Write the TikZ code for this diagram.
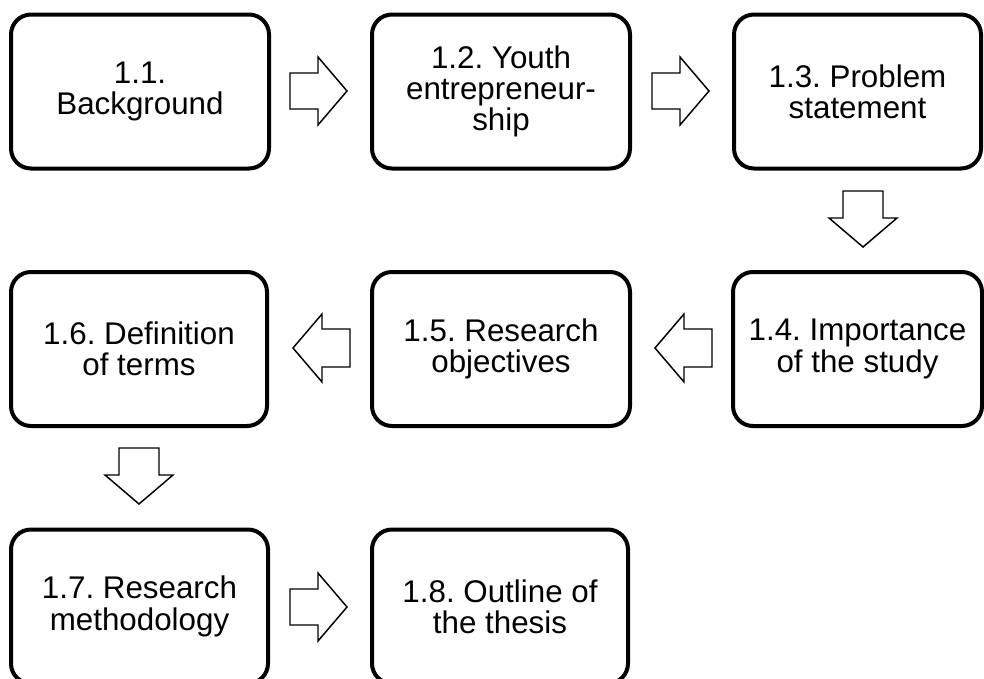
\documentclass[tikz,border=0pt]{standalone}
\usepackage{fontspec}
\setmainfont{Liberation Sans}
\usetikzlibrary{calc}
\frenchspacing
\begin{document}
\begin{tikzpicture}[x=0.75pt,y=-0.75pt,
  box/.style={draw=black,line width=3pt,rounded corners=15pt,fill=white,
    minimum width={258*0.75pt},minimum height={154*0.75pt},inner sep=0pt,
    align=center,font=\fontsize{23.5pt}{23.5pt}\selectfont},
  blockarrow/.style={draw=black,line width=1.1pt,fill=white,line join=miter}]
\useasboundingbox (0,0) rectangle (984,678);
\clip (0,0) rectangle (984,678);
\node[box] (b1) at (140,91.5) {1.1.\\Background};
\node[box] (b2) at (501,91.5) {1.2. Youth\\entrepreneur-\\ship};
\node[box,minimum width={247*0.75pt}] (b3) at (857.5,91.5) {1.3. Problem\\statement};
\node[box,minimum width={249*0.75pt}] (b4) at (857.5,349) {1.4. Importance\\of the study};
\node[box] (b5) at (501,349) {1.5. Research\\objectives};
\node[box,minimum width={256*0.75pt}] (b6) at (139,349) {1.6. Definition\\of terms};
\node[box,minimum width={257*0.75pt}] (b7) at (139.5,606.5) {1.7. Research\\methodology};
\node[box,minimum width={256*0.75pt}] (b8) at (500,606.5) {1.8. Outline of\\the thesis};
% right arrows
\coordinate (r1) at (290,91);
\coordinate (r2) at (652,91);
\coordinate (r3) at (290,607);
\foreach \c in {r1,r2,r3}{
  \draw[blockarrow] ($(\c)+(0,-18)$) -- ++(28,0) -- ++(0,-16) -- ++(29,34) -- ++(-29,34) -- ++(0,-16) -- ++(-28,0) -- cycle;
}
% left arrows
\coordinate (l1) at (350,348);
\coordinate (l2) at (712,348);
\foreach \c in {l1,l2}{
  \draw[blockarrow] ($(\c)+(0,-19)$) -- ++(-28,0) -- ++(0,-15) -- ++(-29,34) -- ++(29,34) -- ++(0,-15) -- ++(28,0) -- cycle;
}
% down arrows
\coordinate (d1) at (863,191);
\coordinate (d2) at (139,448);
\foreach \c in {d1,d2}{
  \draw[blockarrow] ($(\c)+(-20,0)$) -- ++(0,27) -- ++(-14,0) -- ++(34,29) -- ++(34,-29) -- ++(-14,0) -- ++(0,-27) -- cycle;
}
\end{tikzpicture}
\end{document}
